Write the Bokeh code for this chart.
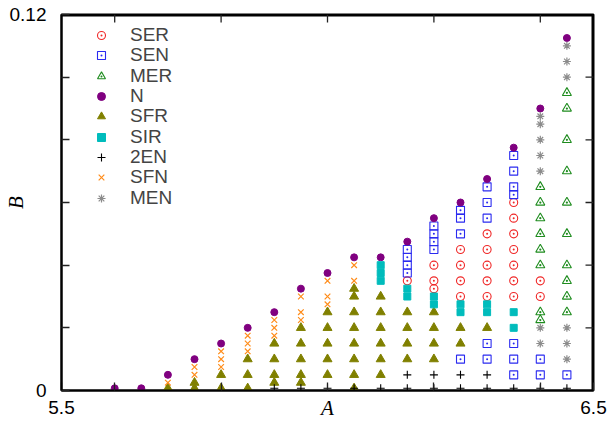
from bokeh.plotting import figure
from bokeh.models import Range1d, FixedTicker, Legend, LegendItem
from bokeh.embed import file_html
from bokeh.resources import INLINE

# ---------------- data ----------------
SER_A = [6.15, 6.20, 6.20, 6.20, 6.25, 6.25, 6.25, 6.25,
         6.30, 6.30, 6.30, 6.30, 6.30,
         6.35, 6.35, 6.35, 6.35, 6.35, 6.35, 6.35, 6.40, 6.40]
SER_B = [0.035, 0.0325, 0.035, 0.04, 0.03, 0.035, 0.04, 0.045,
         0.03, 0.035, 0.04, 0.045, 0.05,
         0.03, 0.035, 0.04, 0.045, 0.05, 0.055, 0.06, 0.03, 0.035]

SEN_A = [6.15, 6.15, 6.15, 6.15, 6.20, 6.20, 6.20, 6.20,
         6.25, 6.25, 6.25, 6.25, 6.30, 6.30, 6.30, 6.30, 6.30,
         6.35, 6.35, 6.35, 6.35, 6.35, 6.35, 6.35, 6.40, 6.40, 6.45]
SEN_B = [0.0375, 0.04, 0.0425, 0.045, 0.045, 0.0475, 0.05, 0.0525,
         0.01, 0.05, 0.055, 0.0575, 0.01, 0.015, 0.055, 0.06, 0.065,
         0.005, 0.01, 0.015, 0.0625, 0.065, 0.07, 0.075, 0.005, 0.01, 0.005]

MER_A = [6.40] * 8 + [6.45] * 10
MER_B = [0.0225, 0.025, 0.04, 0.045, 0.05, 0.055, 0.06, 0.065,
         0.025, 0.03, 0.035, 0.04, 0.05, 0.06, 0.07, 0.08, 0.09, 0.095]

N_A = [5.60, 5.65, 5.70, 5.75, 5.80, 5.85, 5.90, 5.95, 6.00,
       6.05, 6.10, 6.15, 6.20, 6.25, 6.30, 6.35, 6.40, 6.45]
N_B = [0.0007, 0.0007, 0.005, 0.01, 0.015, 0.02, 0.025, 0.0325, 0.0375,
       0.0425, 0.0425, 0.0475, 0.055, 0.06, 0.0675, 0.0775, 0.09, 0.1125]

SFR_A = [5.70, 5.75, 5.75, 5.80, 5.80, 5.85, 5.85, 5.85,
         5.90, 5.90, 5.90, 5.90, 5.95, 5.95, 5.95, 5.95, 5.95,
         6.00, 6.00, 6.00, 6.00, 6.00,
         6.05, 6.05, 6.05, 6.05, 6.05, 6.05, 6.05, 6.05,
         6.10, 6.10, 6.10, 6.10, 6.10, 6.10,
         6.15, 6.15, 6.15, 6.15, 6.20, 6.20, 6.20, 6.20,
         6.25, 6.25, 6.30]
SFR_B = [0.0007, 0.0007, 0.0025, 0.0007, 0.005, 0.0007, 0.005, 0.01,
         0.0025, 0.005, 0.01, 0.015, 0.0025, 0.005, 0.01, 0.015, 0.02,
         0.005, 0.01, 0.015, 0.02, 0.025,
         0.0007, 0.005, 0.01, 0.015, 0.02, 0.025, 0.03, 0.0325,
         0.005, 0.01, 0.015, 0.02, 0.025, 0.03,
         0.01, 0.015, 0.02, 0.025, 0.01, 0.015, 0.02, 0.025,
         0.015, 0.02, 0.02]

SIR_A = [6.10, 6.10, 6.10, 6.15, 6.15, 6.20, 6.20, 6.25, 6.25,
         6.30, 6.30, 6.35, 6.35]
SIR_B = [0.035, 0.0375, 0.04, 0.03, 0.0325, 0.0275, 0.03, 0.025, 0.0275,
         0.025, 0.0275, 0.02, 0.025]

EN2_A = [5.90, 5.95, 6.00, 6.05, 6.10, 6.15, 6.15, 6.20, 6.20,
         6.25, 6.25, 6.30, 6.30, 6.35, 6.40, 6.45]
EN2_B = [0.0007, 0.0007, 0.0007, 0.0007, 0.0007, 0.0007, 0.005, 0.0007, 0.005,
         0.0007, 0.005, 0.0007, 0.005, 0.0007, 0.0007, 0.0007]

SFN_A = [5.70, 5.75, 5.75, 5.80, 5.80, 5.80, 5.85, 5.85, 5.85,
         5.90, 5.90, 5.90, 5.95, 5.95, 5.95, 6.00, 6.00, 6.00, 6.05, 6.05]
SFN_B = [0.0025, 0.005, 0.0075, 0.0075, 0.01, 0.0125, 0.0125, 0.015, 0.0175,
         0.0175, 0.02, 0.0225, 0.0225, 0.025, 0.03, 0.0275, 0.03, 0.035, 0.035, 0.04]

MEN_A = [6.40] * 7 + [6.45] * 6
MEN_B = [0.015, 0.02, 0.07, 0.075, 0.08, 0.085, 0.0875,
         0.01, 0.015, 0.02, 0.10, 0.105, 0.11]

X_TICKS = [5.5, 5.6, 5.8, 6.0, 6.2, 6.4, 6.5]
X_LABELS = {5.5: "5.5", 6.5: "6.5"}
Y_TICKS = [0.0, 0.02, 0.04, 0.06, 0.08, 0.10, 0.12]
Y_LABELS = {0.0: "0", 0.12: "0.12"}
X_TITLE = "A"
Y_TITLE = "B"
SERIES_NAMES = ["SER", "SEN", "MER", "N", "SFR", "SIR", "2EN", "SFN", "MEN"]

# ---------------- figure ----------------
W, H = 612, 422
BL, BR, BT, BB = 60, 19, 14, 32
X0, X1, Y0, Y1 = 5.5, 6.5, 0.0, 0.12
frame_w = W - BL - BR
frame_h = H - BT - BB
p = figure(width=W, height=H, output_backend="svg", toolbar_location=None,
           x_range=Range1d(X0, X1), y_range=Range1d(Y0, Y1),
           min_border_left=BL, min_border_right=BR, min_border_top=BT,
           min_border_bottom=BB, background_fill_color="white",
           border_fill_color="white")
p.xgrid.visible = False
p.ygrid.visible = False
p.outline_line_color = "black"
p.outline_line_width = 2

FONT = "Liberation Sans"
TFS = "19px"
TICK_LEN = 8
TICK_COLOR = "#222222"

def style_axis(ax, ticks, labels, standoff):
    ax.ticker = FixedTicker(ticks=ticks)
    ax.major_label_overrides = {t: labels.get(t, "") for t in ticks}
    ax.major_tick_in = TICK_LEN
    ax.major_tick_out = 0
    ax.minor_tick_in = 0
    ax.minor_tick_out = 0
    ax.major_tick_line_color = TICK_COLOR
    ax.major_tick_line_width = 1.3
    ax.axis_line_color = "black"
    ax.axis_line_width = 2
    ax.major_label_text_font = FONT
    ax.major_label_text_font_size = TFS
    ax.major_label_text_color = "black"
    ax.major_label_standoff = standoff

xa = p.xaxis[0]
ya = p.yaxis[0]
style_axis(xa, X_TICKS, X_LABELS, 10)
style_axis(ya, Y_TICKS, Y_LABELS, 15)
for ax, title, standoff in ((xa, X_TITLE, -21), (ya, Y_TITLE, -21)):
    ax.axis_label = title
    ax.axis_label_text_font = "Liberation Serif"
    ax.axis_label_text_font_style = "italic"
    ax.axis_label_text_font_size = "21px"
    ax.axis_label_text_color = "black"
    ax.axis_label_standoff = standoff

# mirrored frame edges and inward ticks on the top and right sides
p.segment(x0=[X0], y0=[Y1], x1=[X1], y1=[Y1], line_color="black", line_width=4)
p.segment(x0=[X1], y0=[Y0], x1=[X1], y1=[Y1], line_color="black", line_width=4)
top_t = X_TICKS[1:-1]
dy = TICK_LEN / frame_h * (Y1 - Y0)
p.segment(x0=top_t, y0=[Y1] * len(top_t), x1=top_t, y1=[Y1 - dy] * len(top_t),
          line_color=TICK_COLOR, line_width=1.3)
right_t = Y_TICKS[1:-1]
dx = TICK_LEN / frame_w * (X1 - X0)
p.segment(x0=[X1] * len(right_t), y0=right_t, x1=[X1 - dx] * len(right_t), y1=right_t,
          line_color=TICK_COLOR, line_width=1.3)

# ---------------- series ----------------
r_ser = p.scatter(SER_A, SER_B, marker="circle_dot", size=8, fill_color=None,
                  line_color="#f02828", line_width=1.1)
r_sen = p.scatter(SEN_A, SEN_B, marker="square_dot", size=8, fill_color=None,
                  line_color="#2a2af0", line_width=1.1)
r_mer = p.scatter(MER_A, MER_B, marker="triangle_dot", size=9, fill_color=None,
                  line_color="#1e8c1e", line_width=1.1)
r_n = p.scatter(N_A, N_B, marker="circle", size=7, fill_color="#800080",
                line_color="#800080")
r_sfr = p.scatter(SFR_A, SFR_B, marker="triangle", size=9, fill_color="#808000",
                  line_color="#808000")
r_sir = p.scatter(SIR_A, SIR_B, marker="square", size=7, fill_color="#00bcbc",
                  line_color="#00bcbc")
r_2en = p.scatter(EN2_A, EN2_B, marker="cross", size=8, line_color="black",
                  line_width=1.1)
r_sfn = p.scatter(SFN_A, SFN_B, marker="x", size=8, line_color="#ff8c1a",
                  line_width=1.2)
r_men = p.scatter(MEN_A, MEN_B, marker="asterisk", size=8, line_color="#8c8c8c",
                  line_width=1.2)

# ---------------- key (one entry per row, rows 20.3 px apart) ----------------
rends = [r_ser, r_sen, r_mer, r_n, r_sfr, r_sir, r_2en, r_sfn, r_men]
ROW_H = 27.6        # measured box height of a one-row key
FIRST_ROW = 32.3    # centre of the first key row, px from top
PITCH = 20.34
frame_bottom = BT + frame_h
for i, (name, r) in enumerate(zip(SERIES_NAMES, rends)):
    centre = FIRST_ROW + i * PITCH
    leg = Legend(items=[LegendItem(label=name, renderers=[r])],
                 location=(30, frame_bottom - centre - ROW_H / 2),
                 padding=0, spacing=0, margin=0,
                 glyph_height=20, glyph_width=20, label_height=20,
                 label_standoff=19, border_line_color=None,
                 background_fill_alpha=0,
                 label_text_font=FONT, label_text_font_size=TFS)
    p.add_layout(leg)

open("out.html", "w").write(file_html(p, INLINE))
